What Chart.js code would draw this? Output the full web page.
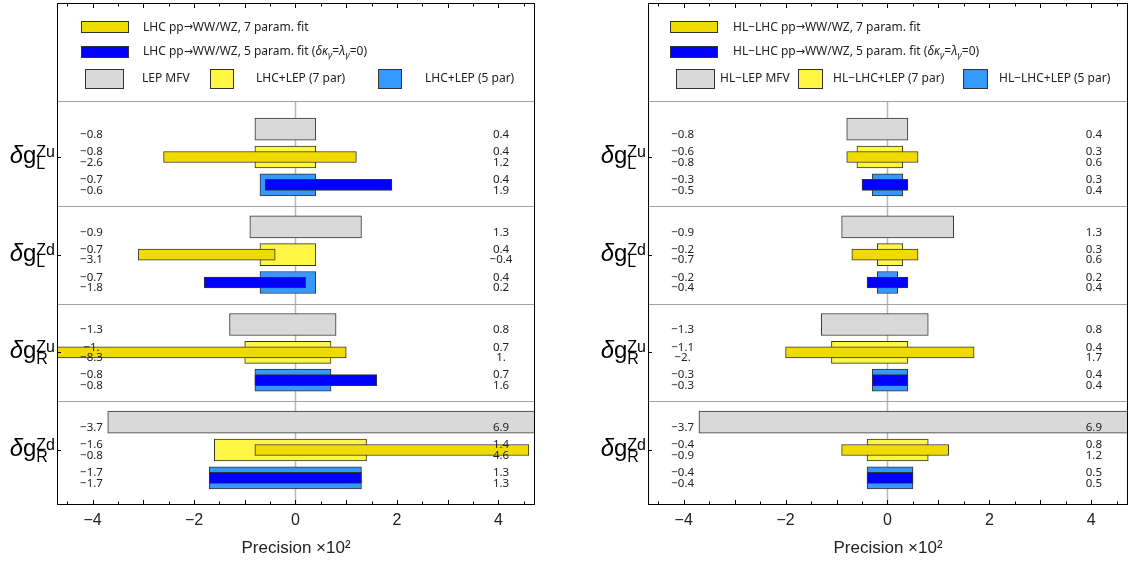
<!DOCTYPE html>
<html>
<head>
<meta charset="utf-8">
<script src="https://cdn.jsdelivr.net/npm/chart.js@4"></script>
<style>
  body { margin: 0; background: #fff; }
  .panel { position: absolute; top: 0; height: 563px; }
  #left { left: 0; width: 560px; }
  #right { left: 560px; width: 569px; }
</style>
</head>
<body>
<div class="panel" id="left"><canvas id="lhc"></canvas></div>
<div class="panel" id="right"><canvas id="hllhc"></canvas></div>
<script>
// couplings, top to bottom
const couplingSup = ['Zu', 'Zd', 'Zu', 'Zd'];
const couplingSub = ['L', 'L', 'R', 'R'];

// LHC panel: lower / upper ends of each interval (x 10^2)
const lepMfvLow   = [-0.8, -0.9, -1.3, -3.7];
const lepMfvHigh  = [0.4, 1.3, 0.8, 6.9];
const lhc7Low     = [-2.6, -3.1, -8.3, -0.8];
const lhc7High    = [1.2, -0.4, 1, 4.6];
const lhc5Low     = [-0.6, -1.8, -0.8, -1.7];
const lhc5High    = [1.9, 0.2, 1.6, 1.3];
const lhcLep7Low  = [-0.8, -0.7, -1, -1.6];
const lhcLep7High = [0.4, 0.4, 0.7, 1.4];
const lhcLep5Low  = [-0.7, -0.7, -0.8, -1.7];
const lhcLep5High = [0.4, 0.4, 0.7, 1.3];

// HL-LHC panel
const hlLepLow     = [-0.8, -0.9, -1.3, -3.7];
const hlLepHigh    = [0.4, 1.3, 0.8, 6.9];
const hl7Low       = [-0.8, -0.7, -2, -0.9];
const hl7High      = [0.6, 0.6, 1.7, 1.2];
const hl5Low       = [-0.5, -0.4, -0.3, -0.4];
const hl5High      = [0.4, 0.4, 0.4, 0.5];
const hlLhcLep7Low  = [-0.6, -0.2, -1.1, -0.4];
const hlLhcLep7High = [0.3, 0.3, 0.4, 0.8];
const hlLhcLep5Low  = [-0.3, -0.2, -0.3, -0.4];
const hlLhcLep5High = [0.3, 0.2, 0.4, 0.5];

const xTicks = [-4, -2, 0, 2, 4];

const lhcLegend = ['LHC pp→WW/WZ, 7 param. fit', 'LHC pp→WW/WZ, 5 param. fit ',
  'LEP MFV', 'LHC+LEP (7 par)', 'LHC+LEP (5 par)'];
const hlLegend = ['HL−LHC pp→WW/WZ, 7 param. fit', 'HL−LHC pp→WW/WZ, 5 param. fit ',
  'HL−LEP MFV', 'HL−LHC+LEP (7 par)', 'HL−LHC+LEP (5 par)'];

const GRAY = '#d9d9d9', YEL_LIGHT = '#fff545', YEL = '#efdb00', BLUE_LIGHT = '#3399ff', BLUE = '#0000ff';
const EDGE = '#333';
const TEXT_FONT = '"Noto Sans"';
const AXIS_FONT = '"Liberation Sans"';

// rows inside each coupling block
const ROW_LEP = -0.285, ROW_7 = 0, ROW_5 = 0.285;
const SEPARATORS = [0.427, 1.5, 2.5, 3.5];

const fmt = v => (v < 0 ? '−' : '') + (Number.isInteger(v) ? Math.abs(v) + '.' : Math.abs(v).toFixed(1));

function rows(lo, hi, offset) {
  return lo.map((v, i) => ({ x: [v, hi[i]], y: i + 1 + offset }));
}

function bar(data, color, thick, order) {
  return {
    data: data, backgroundColor: color, borderColor: EDGE, borderWidth: 1,
    borderSkipped: false, barThickness: thick, grouped: false, order: order
  };
}

function hline(ctx, x1, y1, x2, y2) {
  ctx.beginPath(); ctx.moveTo(x1, y1); ctx.lineTo(x2, y2); ctx.stroke();
}

function swatch(ctx, x, y, w, h, color) {
  ctx.fillStyle = color;
  ctx.fillRect(x, y, w, h);
  ctx.strokeStyle = EDGE; ctx.lineWidth = 1;
  ctx.strokeRect(x + 0.5, y + 0.5, w - 1, h - 1);
}

// text pieces: [string, font, dy]
function richText(ctx, x, y, parts) {
  parts.forEach(p => {
    ctx.font = p[1];
    ctx.fillText(p[0], x, y + (p[2] || 0));
    x += ctx.measureText(p[0]).width;
  });
}

// the arrow glyph comes out tiny in Noto Sans, so it gets DejaVu
function withArrow(str, font) {
  const [a, b] = str.split('→');
  return [[a, font], ['→', '11px "DejaVu Sans"', 0], [b, font]];
}

function drawCoupling(ctx, xr, yc, sup, sub) {
  const big = '24px ' + AXIS_FONT, bigIt = 'italic 24px ' + AXIS_FONT, small = '16px ' + AXIS_FONT;
  ctx.fillStyle = '#000';
  ctx.textAlign = 'left'; ctx.textBaseline = 'alphabetic';
  ctx.font = bigIt; const wd = ctx.measureText('δ').width;
  ctx.font = big; const wg = ctx.measureText('g').width;
  ctx.font = small; const ws = Math.max(ctx.measureText(sup).width, ctx.measureText(sub).width);
  let x = xr - wd - wg - ws;
  ctx.font = bigIt; ctx.fillText('δ', x, yc + 6); x += wd;
  ctx.font = big; ctx.fillText('g', x, yc + 6); x += wg;
  ctx.font = small; ctx.fillText(sup, x, yc); ctx.fillText(sub, x, yc + 12);
}

function decor(p) {
  return {
    id: 'decor',
    beforeDatasetsDraw(chart) {
      const { ctx, chartArea: a, scales: { x, y } } = chart;
      ctx.save();
      ctx.strokeStyle = '#b8b8b8'; ctx.lineWidth = 1.5;
      const x0 = x.getPixelForValue(0);
      hline(ctx, x0, y.getPixelForValue(SEPARATORS[0]), x0, a.bottom);
      ctx.strokeStyle = '#a3a3a3'; ctx.lineWidth = 1;
      SEPARATORS.forEach(v => {
        const py = Math.round(y.getPixelForValue(v)) + 0.5;
        hline(ctx, a.left, py, a.right, py);
      });
      ctx.restore();
    },
    afterDatasetsDraw(chart) {
      const { ctx, chartArea: a, scales: { x, y } } = chart;
      ctx.save();

      // interval end values
      ctx.fillStyle = '#222';
      ctx.font = '11.5px ' + TEXT_FONT;
      ctx.textAlign = 'center'; ctx.textBaseline = 'middle';
      const xl = x.getPixelForValue(-4.02), xr = x.getPixelForValue(4.05);
      const put = (lo, hi, i, row, dy) => {
        const py = y.getPixelForValue(i + 1 + row) + dy;
        ctx.fillText(fmt(lo[i]), xl, py);
        ctx.fillText(fmt(hi[i]), xr, py);
      };
      for (let i = 0; i < 4; i++) {
        put(p.lep[0], p.lep[1], i, ROW_LEP, 5.5);
        put(p.comb7[0], p.comb7[1], i, ROW_7, -5);
        put(p.fit7[0], p.fit7[1], i, ROW_7, 5.5);
        put(p.comb5[0], p.comb5[1], i, ROW_5, -5);
        put(p.fit5[0], p.fit5[1], i, ROW_5, 5.5);
      }

      // legend block
      const L = p.legend, lay = p.layout, l0 = a.left;
      ctx.textAlign = 'left'; ctx.textBaseline = 'middle';
      swatch(ctx, l0 + lay.swX, 21, lay.swW, 12, YEL);
      swatch(ctx, l0 + lay.swX, 46, lay.swW, 12, BLUE);
      ctx.fillStyle = '#222';
      const f = '12px ' + TEXT_FONT, fi = 'italic 12px ' + TEXT_FONT, fs = 'italic 9px ' + TEXT_FONT;
      richText(ctx, l0 + lay.txX, 27.5, withArrow(L[0], f));
      richText(ctx, l0 + lay.txX, 52, withArrow(L[1] + '(', f).concat(
        [['δκ', fi], ['γ', fs, 3], ['=', f], ['λ', fi], ['γ', fs, 3], ['=0)', f]]));
      const boxColors = [GRAY, YEL_LIGHT, BLUE_LIGHT];
      lay.boxes.forEach((b, i) => {
        swatch(ctx, l0 + b[0], 69, b[1], 20, boxColors[i]);
        ctx.fillStyle = '#222';
        ctx.font = f;
        ctx.fillText(L[2 + i], l0 + b[2], 79);
      });

      // frame with inward ticks
      ctx.strokeStyle = '#000'; ctx.lineWidth = 1;
      ctx.strokeRect(a.left + 0.5, a.top + 0.5, a.right - a.left - 1, a.bottom - a.top - 1);
      for (let v = -4.5; v <= 4.5; v += 0.5) {
        const px = Math.round(x.getPixelForValue(v)) + 0.5;
        const len = Number.isInteger(v) ? 5 : 3.5;
        hline(ctx, px, a.bottom, px, a.bottom - len);
        hline(ctx, px, a.top, px, a.top + len);
      }
      for (let i = 1; i <= 4; i++) {
        const py = Math.round(y.getPixelForValue(i)) + 0.5;
        hline(ctx, a.left, py, a.left + 4, py);
      }
      ctx.restore();
    },
    afterDraw(chart) {
      const { ctx, chartArea: a, scales: { y } } = chart;
      ctx.save();
      for (let i = 0; i < 4; i++) {
        drawCoupling(ctx, a.left - 2, y.getPixelForValue(i + 1), couplingSup[i], couplingSub[i]);
      }
      ctx.restore();
    }
  };
}

function makePanel(id, p, pad) {
  new Chart(document.getElementById(id), {
    type: 'bar',
    data: {
      datasets: [
        bar(rows(p.lep[0], p.lep[1], ROW_LEP), GRAY, 22, 3),
        bar(rows(p.comb7[0], p.comb7[1], ROW_7), YEL_LIGHT, 22, 2),
        bar(rows(p.fit7[0], p.fit7[1], ROW_7), YEL, 11, 1),
        bar(rows(p.comb5[0], p.comb5[1], ROW_5), BLUE_LIGHT, 22, 2),
        bar(rows(p.fit5[0], p.fit5[1], ROW_5), BLUE, 11, 1)
      ]
    },
    options: {
      responsive: true,
      maintainAspectRatio: false,
      animation: false,
      indexAxis: 'y',
      layout: { padding: pad },
      plugins: { legend: { display: false }, tooltip: { enabled: false } },
      scales: {
        x: {
          type: 'linear', min: -4.7, max: 4.72, offset: false,
          grid: { display: false, drawTicks: false },
          border: { display: false },
          afterBuildTicks: s => { s.ticks = xTicks.map(v => ({ value: v })); },
          afterFit: s => { s.height = 58; },
          ticks: {
            padding: 6, color: '#222',
            font: { family: 'Liberation Sans', size: 16 },
            callback: v => (v < 0 ? '−' + Math.abs(v) : '' + v)
          },
          title: {
            display: true, text: 'Precision ×10²', color: '#222',
            font: { family: 'Liberation Sans', size: 17 },
            padding: { top: 0, bottom: 4 }
          }
        },
        y: { type: 'linear', reverse: true, min: -0.577, max: 4.563, offset: false, display: false }
      }
    },
    plugins: [decor(p)]
  });
}

makePanel('lhc', {
  lep: [lepMfvLow, lepMfvHigh],
  fit7: [lhc7Low, lhc7High],
  fit5: [lhc5Low, lhc5High],
  comb7: [lhcLep7Low, lhcLep7High],
  comb5: [lhcLep5Low, lhcLep5High],
  legend: lhcLegend,
  layout: { swX: 24, swW: 48, txX: 86, boxes: [[28, 39, 85], [153, 24, 199], [321, 24, 368]] }
}, { left: 57, right: 25, top: 3, bottom: 0 });

makePanel('hllhc', {
  lep: [hlLepLow, hlLepHigh],
  fit7: [hl7Low, hl7High],
  fit5: [hl5Low, hl5High],
  comb7: [hlLhcLep7Low, hlLhcLep7High],
  comb5: [hlLhcLep5Low, hlLhcLep5High],
  legend: hlLegend,
  layout: { swX: 22, swW: 48, txX: 85, boxes: [[28, 39, 72], [150, 25, 185], [315, 25, 351]] }
}, { left: 88, right: 1, top: 3, bottom: 0 });
</script>
</body>
</html>
